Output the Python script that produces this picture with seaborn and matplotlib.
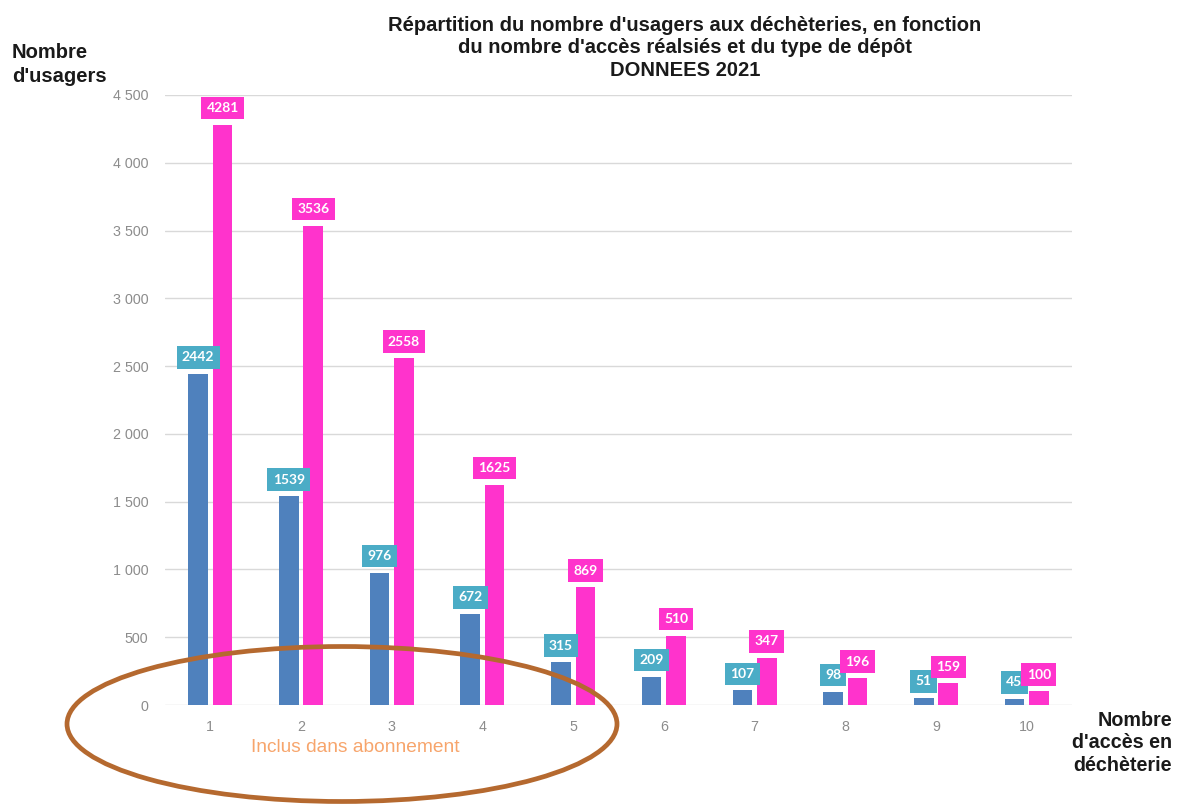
import matplotlib
matplotlib.use("Agg")
import matplotlib.pyplot as plt
import seaborn as sns
import pandas as pd
from matplotlib.patches import Ellipse
from matplotlib.ticker import FuncFormatter

# Nombre d'accès en déchèterie
acces = ["1", "2", "3", "4", "5", "6", "7", "8", "9", "10"]
# Nombre d'usagers par type de dépôt
type_1 = [2442, 1539, 976, 672, 315, 209, 107, 98, 51, 45]
type_2 = [4281, 3536, 2558, 1625, 869, 510, 347, 196, 159, 100]
series = ["Type 1", "Type 2"]

bar_colors = ["#4F81BD", "#FF33CC"]
label_colors = ["#4BACC6", "#FF33CC"]

df = pd.DataFrame({
    "acces": acces * 2,
    "usagers": type_1 + type_2,
    "type": [series[0]] * len(acces) + [series[1]] * len(acces),
})

sns.set_theme(style="white")
plt.rcParams["font.family"] = ["Liberation Sans", "DejaVu Sans"]

fig = plt.figure(figsize=(11.77, 8.05), dpi=100)
ax = fig.add_axes([165 / 1177, 1 - 705 / 805, 907 / 1177, 610 / 805])

sns.barplot(data=df, x="acces", y="usagers", hue="type", order=acces,
            hue_order=series, palette=bar_colors, width=0.54, gap=0.2,
            saturation=1, legend=False, ax=ax, edgecolor="none")

ax.set_xlim(-0.5, len(acces) - 0.5)
ax.set_ylim(0, 4500)
ax.set_yticks(range(0, 4501, 500))
ax.yaxis.set_major_formatter(FuncFormatter(lambda v, p: f"{int(v):,}".replace(",", " ")))
ax.grid(axis="y", color="#D9D9D9", linewidth=1)
ax.set_axisbelow(True)
for s in ax.spines.values():
    s.set_visible(False)
ax.tick_params(axis="both", length=0, colors="#8C8C8C", labelsize=10.3)
ax.tick_params(axis="y", pad=12)
ax.tick_params(axis="x", pad=11)
ax.set_xlabel("")
ax.set_ylabel("")

# Étiquettes de valeurs au-dessus des barres
for container, vals, col in zip(ax.containers, [type_1, type_2], label_colors):
    for bar, v in zip(container, vals):
        cx = bar.get_x() + bar.get_width() / 2
        ax.annotate(str(v), (cx, v), xytext=(0, 12), textcoords="offset points",
                    ha="center", va="center", color="white", fontsize=10,
                    fontweight="bold", family=["Lato", "DejaVu Sans"],
                    bbox=dict(boxstyle="square,pad=0.38", fc=col, ec="none"),
                    annotation_clip=False)

fig.text(0.582, 1 - 16 / 805,
         "Répartition du nombre d'usagers aux déchèteries, en fonction\n"
         "du nombre d'accès réalsiés et du type de dépôt\nDONNEES 2021",
         ha="center", va="top", fontsize=14.5, fontweight="bold",
         linespacing=1.22, color="#1a1a1a")

fig.text(12 / 1177, 1 - 43 / 805, "Nombre\nd'usagers", ha="left", va="top",
         fontsize=14.5, fontweight="bold", color="#1a1a1a", linespacing=1.3)
fig.text(1172 / 1177, 1 - 711 / 805, "Nombre\nd'accès en\ndéchèterie",
         ha="right", va="top", fontsize=14.2, fontweight="bold",
         color="#1a1a1a", linespacing=1.22)

fig.text(355 / 1177, 1 - 747 / 805, "Inclus dans abonnement", ha="center",
         va="center", fontsize=13.8, color="#F7A56C")

fig.patches.append(Ellipse((342 / 1177, 1 - 724 / 805), 550 / 1177, 155 / 805,
                           transform=fig.transFigure, fill=False,
                           edgecolor="#B5692F", linewidth=3.4))

fig.savefig("out.png", dpi=100)
